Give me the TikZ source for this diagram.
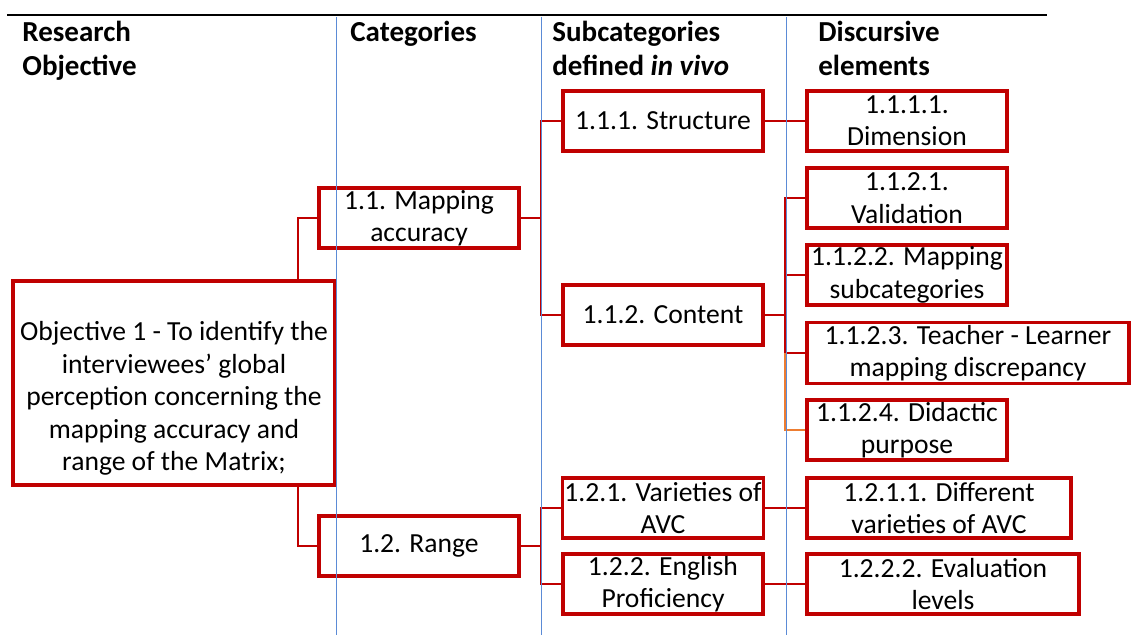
\documentclass[tikz,border=0pt]{standalone}
\usepackage{fontspec}
\setmainfont{Carlito}
\usetikzlibrary{positioning}
\definecolor{boxred}{RGB}{192,0,0}
\definecolor{rulebl}{RGB}{91,139,214}
\definecolor{branchor}{RGB}{237,125,49}

\begin{document}
\begin{tikzpicture}[
  x=0.5pt, y=-0.5pt,
  box/.style={draw=boxred, fill=white, line width=1.6pt,
              minimum width=100pt, minimum height=30pt, inner sep=1pt,
              align=center, font=\fontsize{13.8}{16.2}\selectfont},
  head/.style={anchor=north west, inner sep=0pt, align=left,
               font=\fontsize{14.5}{17}\selectfont\bfseries},
  link/.style={draw=boxred, line width=1.3pt},
  oddlink/.style={draw=branchor, line width=0.8pt},
  colrule/.style={draw=rulebl, line width=0.5pt}
]
\useasboundingbox (0,0) rectangle (1131,635);

% column headings
\node[head] (hobj) at (22,21)  {Research\\Objective};
\node[head] (hcat) at (350,21) {Categories};
\node[head] (hsub) at (552,21) {Subcategories\\defined \textit{in vivo}};
\node[head] (hdis) at (818,21) {Discursive\\elements};

% objective and categories
\node[box, minimum width=161pt, minimum height=102pt] (obj) at (174,383)
  {\rule{0pt}{25pt}Objective 1 - To identify the\\interviewees' global\\perception concerning the\\mapping accuracy and\\range of the Matrix;};
\node[box] (map) at (419,218) {1.1. Mapping\\accuracy};
\node[box] (rng) at (419,546) {1.2. Range};

% subcategories
\node[box] (struct) at (663,121) {1.1.1. Structure};
\node[box] (cont)   at (663,315) {1.1.2. Content};
\node[box] (var)    at (663,508) {1.2.1. Varieties of\\AVC};
\node[box] (eng)    at (663,584) {1.2.2. English\\Proficiency};

% discursive elements
\node[box] (dim)   at (907,121) {1.1.1.1.\\Dimension};
\node[box] (valid) at (907,198) {1.1.2.1.\\Validation};
\node[box] (sub)   at (907,275) {1.1.2.2. Mapping\\subcategories};
\node[box, minimum width=161pt] (teach) at (968,353) {1.1.2.3. Teacher - Learner\\mapping discrepancy};
\node[box] (didac) at (907,430) {1.1.2.4. Didactic\\purpose};
\node[box, minimum width=132pt] (diff) at (939,508) {1.2.1.1. Different\\varieties of AVC};
\node[box, minimum width=136pt] (eval) at (943,584) {1.2.2.2. Evaluation\\levels};

% trunks of the forks
\coordinate (t0) at (298,0);
\coordinate (t1) at (541,0);
\coordinate (t2) at (785,0);

\draw[link] (t0 |- obj.north) |- (map.west);
\draw[link] (t0 |- obj.south) |- (rng.west);

\draw[link] (map.east) -- (map.east -| t1);
\draw[link] (struct.west) -| (t1 |- cont.west) -- (cont.west);
\draw[link] (struct.east) -- (dim.west);

\draw[link] (cont.east) -- (cont.east -| t2);
\draw[link] (valid.west) -| (t2 |- teach.west) -- (teach.west);
\draw[link] (sub.west) -- (sub.west -| t2);
\draw[oddlink] (t2 |- teach.west) |- (didac.west);

\draw[link] (rng.east) -- (rng.east -| t1);
\draw[link] (var.west) -| (t1 |- eng.west) -- (eng.west);
\draw[link] (var.east) -- (diff.west);
\draw[link] (eng.east) -- (eval.west);

% table rules
\coordinate (rl) at (7,15);
\coordinate (rr) at (1047,15);
\draw[line width=1pt] (rl) -- (rr);
\foreach \cx in {336,541,786}
  \draw[colrule] (\cx,17) -- (\cx,635);
\end{tikzpicture}
\end{document}
